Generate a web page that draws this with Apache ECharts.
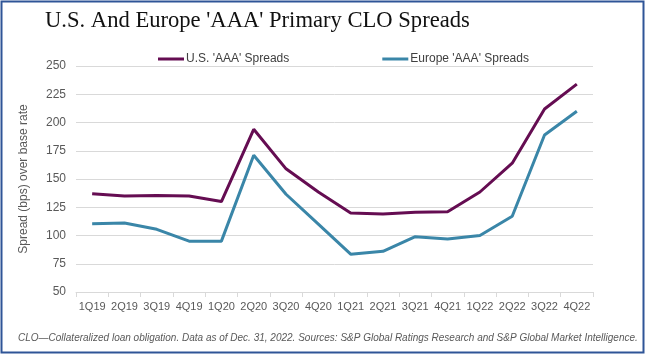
<!DOCTYPE html>
<html><head><meta charset="utf-8">
<script src="https://cdn.jsdelivr.net/npm/echarts@6/dist/echarts.min.js"></script>
<style>html,body{margin:0;padding:0;background:#fff}#c{width:646px;height:356px}</style>
</head><body><div id="c"></div>
<script>
const categories = ['1Q19','2Q19','3Q19','4Q19','1Q20','2Q20','3Q20','4Q20','1Q21','2Q21','3Q21','4Q21','1Q22','2Q22','3Q22','4Q22'];
const usSpreads = [137, 135, 135.5, 135, 130, 194, 159, 138.5, 120, 119, 120.5, 121, 138.5, 164, 212, 234];
const europeSpreads = [110.5, 111, 105.5, 95, 95, 171, 136.5, 110, 83.5, 86, 99, 97, 100, 117, 189, 210];
const yTicks = [50, 250, 25];
const title = "U.S. And Europe 'AAA' Primary CLO Spreads";
const yName = 'Spread (bps) over base rate';
const footnote = 'CLO\u2014Collateralized loan obligation. Data as of Dec. 31, 2022. Sources: S&P Global Ratings Research and S&P Global Market Intelligence.';

const chart = echarts.init(document.getElementById('c'), null, {renderer:'canvas'});
chart.setOption({
  animation:false,
  backgroundColor:'#fff',
  title:{text:title,left:40,top:5,textStyle:{fontFamily:'Liberation Serif',fontSize:22.6,fontWeight:'normal',color:'#111'}},
  legend:{top:48,left:153,itemGap:93,itemWidth:26,itemHeight:3,icon:'rect',
    textStyle:{fontFamily:'Liberation Sans',fontSize:12,color:'#404040',padding:[0,0,0,-3]},
    data:["U.S. 'AAA' Spreads","Europe 'AAA' Spreads"]},
  grid:{left:76,right:53,top:66,bottom:64},
  xAxis:{type:'category',data:categories,boundaryGap:true,
    axisLine:{lineStyle:{color:'#d9d9d9'}},
    axisTick:{show:true,lineStyle:{color:'#d9d9d9'},length:5},
    axisLabel:{fontFamily:'Liberation Sans',fontSize:11,color:'#595959',margin:9,interval:0}},
  yAxis:{type:'value',min:yTicks[0],max:yTicks[1],interval:yTicks[2],
    name:yName,nameLocation:'middle',nameGap:46,nameRotate:90,
    nameTextStyle:{fontFamily:'Liberation Sans',fontSize:12,color:'#595959'},
    axisLine:{show:false},axisTick:{show:false},
    splitLine:{lineStyle:{color:'#d9d9d9',width:1}},
    axisLabel:{fontFamily:'Liberation Sans',fontSize:12,color:'#595959',margin:10}},
  series:[
    {name:"U.S. 'AAA' Spreads",type:'line',data:usSpreads,symbol:'none',lineStyle:{color:'#650d52',width:3},itemStyle:{color:'#650d52'}},
    {name:"Europe 'AAA' Spreads",type:'line',data:europeSpreads,symbol:'none',lineStyle:{color:'#3a86a8',width:3},itemStyle:{color:'#3a86a8'}}
  ],
  graphic:[
    {type:'text',left:18,top:333,style:{text:footnote,fontFamily:'Liberation Sans',fontStyle:'italic',fontSize:10,fill:'#595959'}},
    {type:'rect',shape:{x:1.5,y:1.5,width:642,height:351},style:{fill:'none',stroke:'#2f5597',lineWidth:2},silent:true}
  ]
});
</script></body></html>
